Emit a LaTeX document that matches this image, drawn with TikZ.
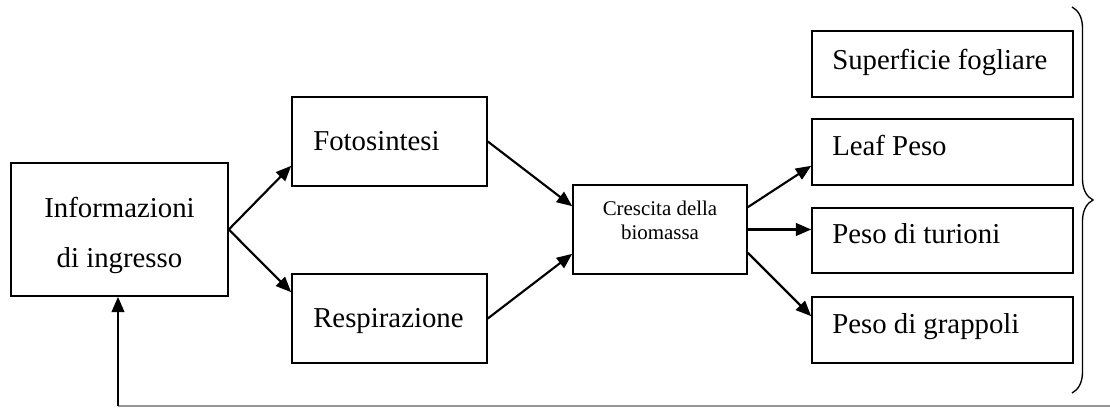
\documentclass[tikz,border=0pt]{standalone}
\usepackage{fontspec}
\setmainfont{Liberation Serif}
\usetikzlibrary{arrows.meta,decorations.pathreplacing,calc}
\begin{document}
\begin{tikzpicture}[x=0.75pt,y=-0.75pt,
  box/.style={draw=black, line width=1.2pt, inner sep=0pt, fill=white},
  lbl/.style={inner sep=0pt, anchor=base west, font={\fontsize{21.6pt}{26pt}\selectfont}},
  arr/.style={draw=black, line width=1.6pt, -{Triangle[length=11.5pt,width=9.5pt]}},
  feed/.style={draw={rgb,255:red,150;green,150;blue,150}, line width=0.8pt}
]
\path[fill=white,use as bounding box] (0,0) rectangle (1110,407);

% boxes
\node[box, minimum width=162.75pt, minimum height=99.75pt] (info) at (119.5,229.5) {};
\node[box, minimum width=146.25pt, minimum height=66.75pt] (foto) at (389.5,141.5) {};
\node[box, minimum width=146.25pt, minimum height=66.75pt] (resp) at (389.5,318.5) {};
\node[box, minimum width=130.5pt, minimum height=66.75pt] (cres) at (660,229.5) {};
\node[box, minimum width=195.75pt, minimum height=49.5pt] (sup) at (942.5,64) {};
\node[box, minimum width=195.75pt, minimum height=49.5pt] (leaf) at (942.5,152) {};
\node[box, minimum width=195.75pt, minimum height=48.75pt] (tur) at (942.5,240.5) {};
\node[box, minimum width=195.75pt, minimum height=49.5pt] (grap) at (942.5,330) {};

% texts
\node[inner sep=0pt, align=center, font={\fontsize{21.6pt}{37.5pt}\selectfont}] (info-t) at (119.5,235) {Informazioni\\di ingresso};
\node[lbl] (foto-t) at (313,150) {Fotosintesi};
\node[lbl] (resp-t) at (313,327) {Respirazione};
\node[inner sep=0pt, align=center, font={\fontsize{15.7pt}{18pt}\selectfont}] (cres-t) at (660,220) {Crescita della\\biomassa};
\node[lbl] (sup-t) at (832,69) {Superficie fogliare};
\node[lbl] (leaf-t) at (832,155.5) {Leaf Peso};
\node[lbl] (tur-t) at (832,243) {Peso di turioni};
\node[lbl] (grap-t) at (832,333.5) {Peso di grappoli};

% connectors
\draw[arr] (info.east) -- ($(foto.south west)+(0,-21)$);
\draw[arr] (info.east) -- ($(resp.north west)+(0,19)$);
\draw[arr] (foto.east) -- ($(cres.north west)+(0,22)$);
\draw[arr] (resp.east) -- ($(cres.south west)+(0,-21)$);
\draw[arr] ($(cres.north east)+(0,23)$) -- ($(leaf.south west)+(0,-20)$);
\draw[arr] (cres.east) -- (cres.east -| tur.west);
\draw[arr] ($(cres.south east)+(0,-22)$) -- ($(grap.north west)+(0,20)$);

% feedback
\coordinate (fbR) at (1110,406);
\coordinate (fbL) at (118,406);
\draw[feed] (fbR) -- (fbL);
\draw[arr] (fbL) -- (fbL |- info.south);

% brace
\coordinate (brT) at (1072,7);
\coordinate (brB) at (1072,393);
\draw[line width=1pt, decorate, decoration={brace, amplitude=15.75pt}] (brT) -- (brB);
\end{tikzpicture}
\end{document}
